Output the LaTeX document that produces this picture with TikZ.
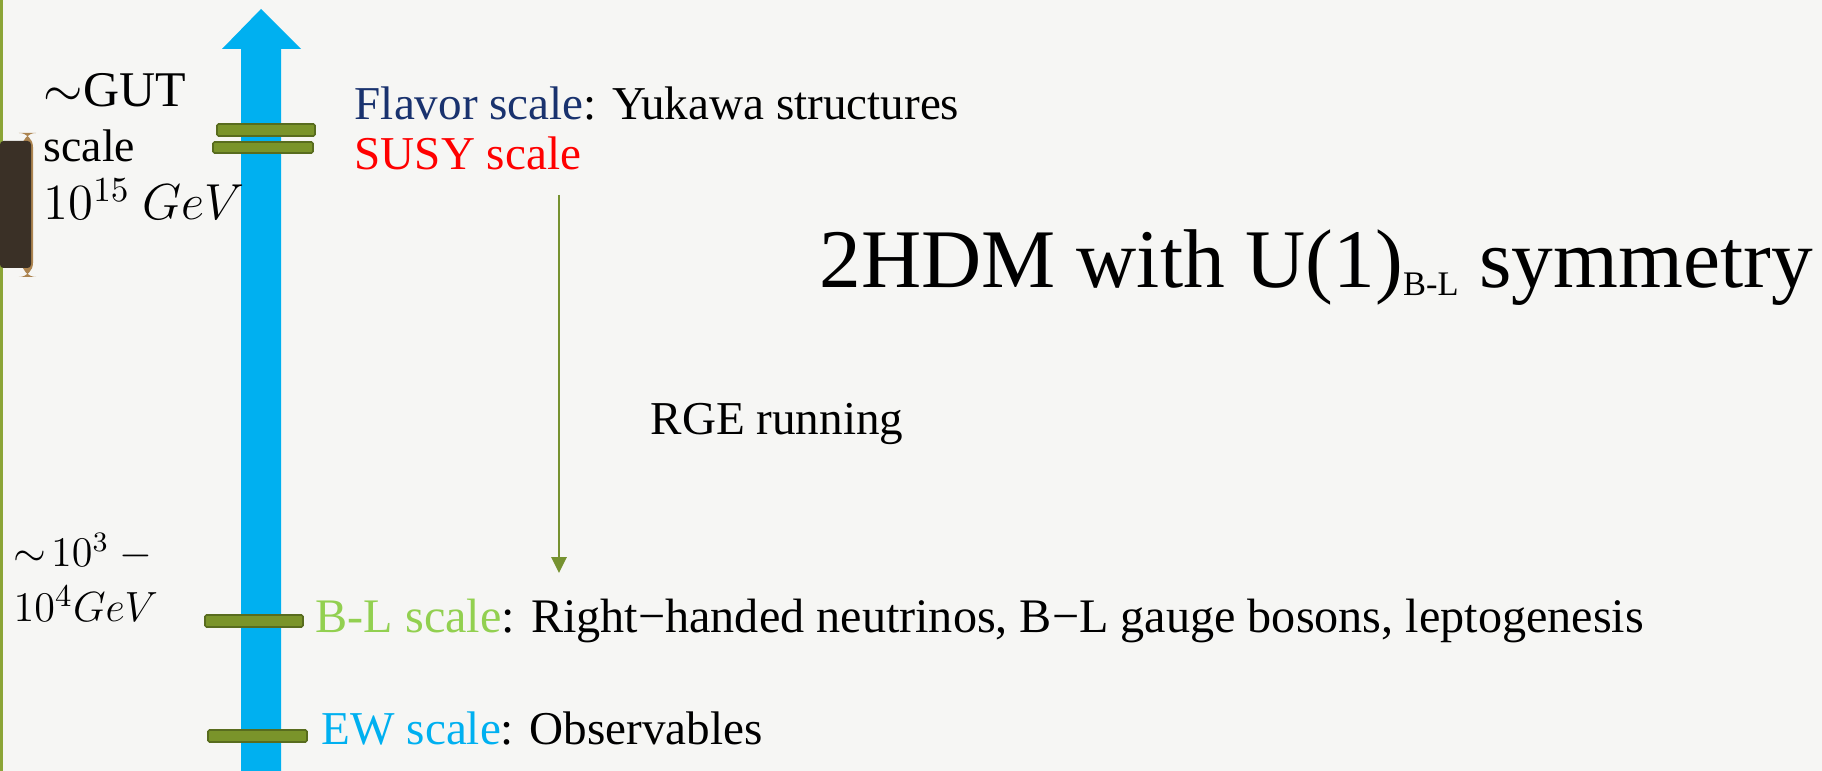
\documentclass[tikz,border=0pt]{standalone}
\usepackage{fontspec}
\setmainfont{Liberation Serif}
\usetikzlibrary{arrows.meta}
\definecolor{paper}{RGB}{246,246,244}
\definecolor{skyblue}{RGB}{0,176,240}
\definecolor{barfill}{RGB}{122,148,42}
\definecolor{barline}{RGB}{88,108,30}
\definecolor{edgegreen}{RGB}{140,165,55}
\definecolor{clipbrown}{RGB}{58,48,38}
\definecolor{clipknob}{RGB}{172,132,80}
\definecolor{navy}{RGB}{25,50,110}
\definecolor{leafgreen}{RGB}{146,208,80}
\definecolor{rgegreen}{RGB}{118,146,48}
\begin{document}
\begin{tikzpicture}[x=0.01cm, y=-0.01cm,
  bar/.style={draw=barline, fill=barfill, line width=0.45pt, rounded corners=0.4pt},
  lbl/.style={anchor=base west, inner sep=0pt, font=\fontsize{13.4}{16}\selectfont},
  side/.style={anchor=base west, inner sep=0pt, font=\fontsize{13.4}{16}\selectfont}]
  % page
  \fill[paper] (0,0) rectangle (1822,771);
  \useasboundingbox (0,0) rectangle (1822,771);
  \fill[edgegreen] (0,0) rectangle (2.7,771);
  \fill[clipknob, rounded corners=4pt] (22,133) rectangle (33,277);
  \fill[clipbrown, rounded corners=1pt] (0,141) rectangle (31,268);

  % energy axis
  \fill[skyblue] (241,771) -- (241,49) -- (222,49) -- (261,9) -- (301,49)
    -- (281,49) -- (281,771) -- cycle;

  % scale marks
  \draw[bar] (217,124) rectangle (315,136);
  \draw[bar] (213,142) rectangle (313,153);
  \draw[bar] (205,615) rectangle (303,627);
  \draw[bar] (208,730) rectangle (307,742);

  % left labels
  \node[side, font=\fontsize{14.2}{16}\selectfont] (gut) at (43,107) {$\sim$GUT};
  \node[side, font=\fontsize{13}{16}\selectfont] (gutscale) at (43,162) {scale};
  \node[side, font=\fontsize{13.6}{16}\selectfont] (gutval) at (43,220) {$10^{15}\ GeV$};
  \node[side, font=\fontsize{12}{14}\selectfont] (tev) at (13,567) {$\sim\!10^{3}\ -$};
  \node[side, font=\fontsize{12.4}{14}\selectfont] (tevval) at (13,622) {$10^{4}GeV$};

  % scale labels
  \node[lbl] (flavor) at (354,120) {\textcolor{navy}{Flavor scale}: Yukawa structures};
  \node[lbl, red] (susy) at (354,170) {SUSY scale};
  \node[lbl, font=\fontsize{13.7}{16}\selectfont] (bl) at (315,633) {\textcolor{leafgreen}{B-L scale}: Right−handed neutrinos, B−L gauge bosons, leptogenesis};
  \node[lbl] (ew) at (321,745) {\textcolor{skyblue}{EW scale}: Observables};

  % running
  \coordinate (rgetop) at (559,195);
  \coordinate (rgebot) at (559,573);
  \draw[rgegreen, line width=0.7pt, -{Triangle[width=4.3pt,length=4.5pt]}] (rgetop) -- (rgebot);
  \node[lbl] (rge) at (650,435) {RGE running};

  % title
  \node[anchor=base west, inner sep=0pt, font=\fontsize{23.7}{26}\selectfont] (title) at (819,288)
    {2HDM with U(1)\raisebox{-2pt}{\fontsize{9.8}{10}\selectfont B-L} symmetry};
\end{tikzpicture}
\end{document}
